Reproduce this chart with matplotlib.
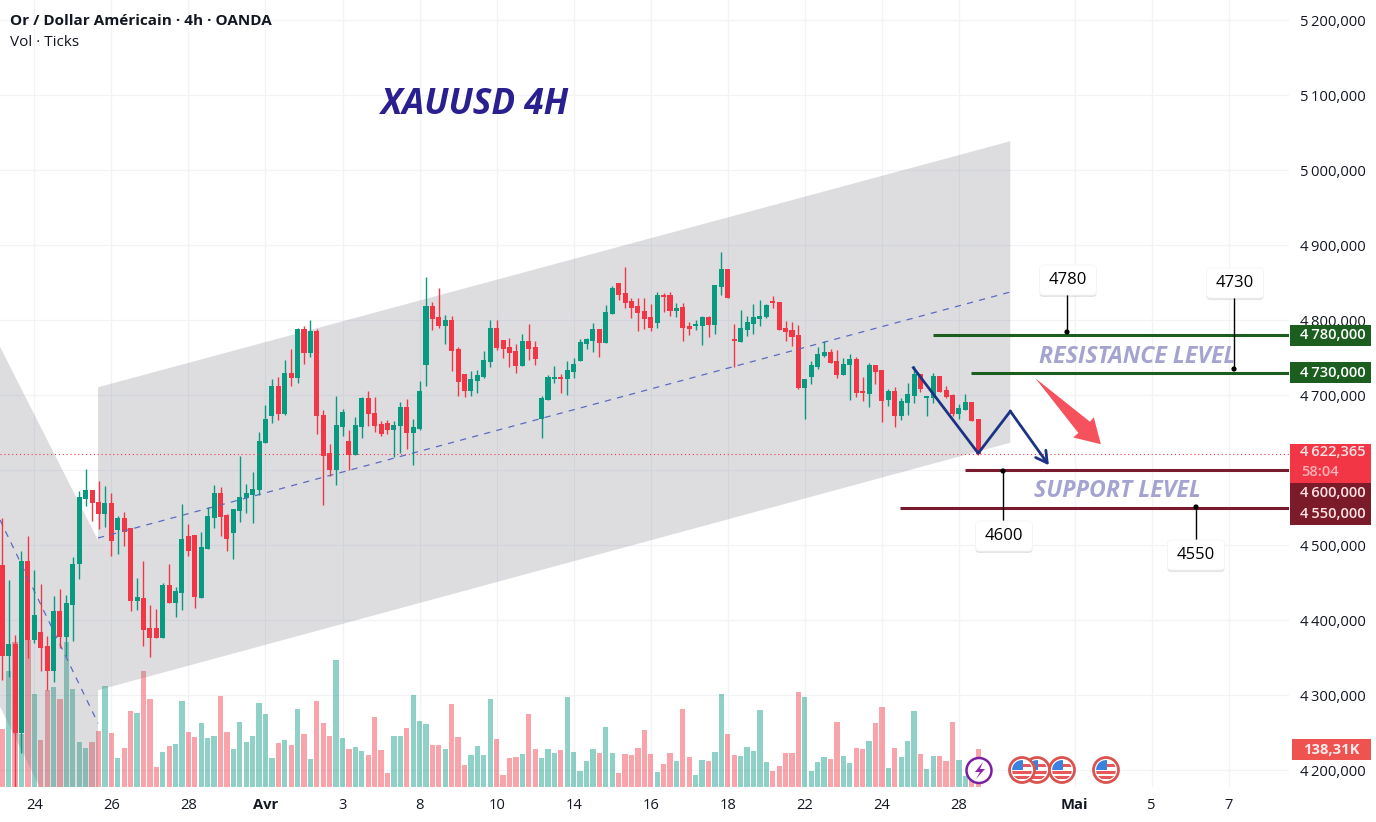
import matplotlib
matplotlib.use('Agg')
from matplotlib import pyplot
from matplotlib.patches import Rectangle, Circle, Polygon, FancyBboxPatch
from matplotlib.patheffects import withSimplePatchShadow
from matplotlib.transforms import blended_transform_factory

pyplot.rcParams['font.family'] = ['Open Sans', 'DejaVu Sans']

opens = [
    4473, 4353, 4367, 4250, 4478, 4374, 4384, 4365, 4333, 4411,
    4378, 4421, 4475, 4562, 4573, 4557, 4542, 4555, 4521, 4535,
    4522, 4426, 4429, 4389, 4389, 4377, 4446, 4423, 4437, 4511,
    4513, 4430, 4495, 4537, 4569, 4539, 4517, 4546, 4563, 4567,
    4574, 4637, 4673, 4711, 4675, 4729, 4723, 4787, 4757, 4785,
    4673, 4622, 4601, 4658, 4638, 4621, 4658, 4695, 4675, 4661,
    4662, 4654, 4659, 4683, 4650, 4655, 4741, 4818, 4803, 4793,
    4799, 4761, 4727, 4706, 4719, 4725, 4745, 4789, 4773, 4763,
    4758, 4739, 4771, 4763, 4669, 4694, 4722, 4723, 4722, 4731,
    4746, 4769, 4773, 4787, 4770, 4809, 4849, 4835, 4825, 4818,
    4811, 4803, 4797, 4833, 4833, 4813, 4817, 4791, 4793, 4793,
    4803, 4794, 4845, 4867, 4774, 4771, 4787, 4795, 4802, 4804,
    4825, 4823, 4789, 4786, 4779, 4710, 4725, 4738, 4752, 4757,
    4745, 4727, 4741, 4747, 4705, 4702, 4739, 4733, 4694, 4705,
    4673, 4690, 4699, 4727, 4697, 4697, 4725, 4706, 4699, 4675,
    4681, 4690, 4667,
]
highs = [
    4536, 4454, 4381, 4493, 4513, 4467, 4449, 4379, 4433, 4442,
    4434, 4485, 4573, 4602, 4574, 4586, 4579, 4570, 4539, 4545,
    4523, 4457, 4479, 4421, 4415, 4450, 4475, 4444, 4555, 4529,
    4514, 4518, 4551, 4580, 4578, 4542, 4547, 4619, 4582, 4598,
    4651, 4687, 4722, 4724, 4747, 4762, 4790, 4793, 4801, 4788,
    4681, 4635, 4699, 4682, 4654, 4671, 4698, 4706, 4698, 4666,
    4667, 4666, 4691, 4695, 4669, 4719, 4858, 4825, 4843, 4807,
    4806, 4765, 4729, 4733, 4734, 4759, 4801, 4801, 4773, 4777,
    4769, 4782, 4795, 4773, 4699, 4727, 4739, 4729, 4746, 4750,
    4775, 4777, 4796, 4789, 4821, 4846, 4850, 4871, 4830, 4830,
    4830, 4822, 4838, 4837, 4838, 4823, 4823, 4798, 4801, 4806,
    4806, 4847, 4891, 4867, 4795, 4814, 4806, 4822, 4827, 4822,
    4833, 4825, 4799, 4798, 4794, 4721, 4746, 4765, 4773, 4762,
    4761, 4750, 4755, 4751, 4725, 4743, 4741, 4734, 4709, 4711,
    4697, 4717, 4739, 4729, 4698, 4730, 4726, 4713, 4702, 4689,
    4702, 4691, 4667,
]
lows = [
    4321, 4325, 4178, 4223, 4350, 4370, 4332, 4307, 4318, 4363,
    4352, 4372, 4455, 4553, 4533, 4522, 4524, 4486, 4488, 4499,
    4413, 4414, 4366, 4351, 4376, 4377, 4423, 4404, 4414, 4486,
    4417, 4430, 4495, 4523, 4513, 4493, 4482, 4531, 4543, 4530,
    4567, 4637, 4663, 4667, 4674, 4713, 4716, 4742, 4751, 4649,
    4554, 4593, 4581, 4646, 4601, 4621, 4643, 4659, 4651, 4646,
    4649, 4618, 4623, 4628, 4607, 4654, 4713, 4787, 4790, 4769,
    4733, 4699, 4698, 4699, 4703, 4723, 4738, 4761, 4750, 4738,
    4730, 4739, 4747, 4741, 4643, 4694, 4716, 4703, 4701, 4723,
    4746, 4762, 4758, 4751, 4770, 4809, 4827, 4817, 4803, 4786,
    4789, 4786, 4790, 4811, 4806, 4804, 4772, 4781, 4787, 4767,
    4778, 4782, 4834, 4830, 4738, 4771, 4779, 4782, 4793, 4803,
    4817, 4787, 4773, 4766, 4709, 4669, 4715, 4735, 4751, 4743,
    4723, 4727, 4694, 4698, 4693, 4685, 4715, 4665, 4686, 4658,
    4667, 4674, 4690, 4705, 4673, 4690, 4705, 4697, 4673, 4669,
    4681, 4666, 4621,
]
closes = [
    4353, 4367, 4250, 4478, 4374, 4406, 4363, 4333, 4411, 4378,
    4422, 4474, 4563, 4573, 4556, 4542, 4555, 4506, 4535, 4518,
    4426, 4430, 4387, 4377, 4377, 4446, 4423, 4438, 4507, 4493,
    4431, 4497, 4538, 4569, 4538, 4509, 4547, 4564, 4569, 4574,
    4638, 4667, 4711, 4675, 4729, 4723, 4787, 4757, 4785, 4672,
    4619, 4601, 4659, 4677, 4621, 4659, 4696, 4675, 4659, 4649,
    4654, 4659, 4683, 4650, 4657, 4705, 4818, 4802, 4793, 4799,
    4759, 4718, 4706, 4721, 4726, 4746, 4789, 4763, 4762, 4757,
    4739, 4771, 4762, 4749, 4695, 4723, 4723, 4722, 4733, 4741,
    4770, 4774, 4787, 4770, 4810, 4842, 4834, 4823, 4817, 4810,
    4802, 4790, 4833, 4831, 4813, 4815, 4790, 4789, 4794, 4803,
    4794, 4846, 4867, 4830, 4772, 4789, 4797, 4803, 4805, 4819,
    4823, 4787, 4785, 4778, 4710, 4721, 4739, 4754, 4757, 4743,
    4727, 4741, 4747, 4703, 4703, 4739, 4731, 4693, 4705, 4673,
    4691, 4701, 4727, 4709, 4698, 4725, 4705, 4698, 4675, 4682,
    4690, 4666, 4622,
]
# volume in thousands of ticks
volumes = [
    210, 421, 528, 194, 534, 337, 170, 354, 363, 319,
    528, 355, 163, 141, 163, 203, 366, 197, 104, 141,
    275, 268, 421, 319, 72, 126, 148, 155, 312, 199,
    181, 232, 177, 184, 330, 199, 137, 235, 163, 184,
    304, 264, 104, 159, 170, 152, 283, 192, 101, 312,
    232, 184, 461, 177, 137, 144, 130, 115, 254, 135,
    50, 184, 184, 213, 334, 239, 228, 152, 152, 137,
    301, 181, 79, 115, 148, 115, 319, 173, 42, 104,
    108, 119, 264, 137, 104, 137, 122, 133, 326, 126,
    57, 93, 137, 122, 217, 122, 50, 119, 115, 141,
    206, 119, 53, 82, 122, 93, 283, 108, 42, 97,
    93, 126, 340, 192, 115, 112, 144, 130, 279, 90,
    57, 75, 122, 122, 344, 326, 57, 90, 108, 101,
    235, 112, 86, 141, 137, 166, 232, 290, 68, 141,
    108, 166, 275, 119, 64, 112, 112, 93, 235, 97,
    39, 24, 138,
]

price_ticks = [4200, 4300, 4400, 4500, 4600, 4700, 4800, 4900, 5000, 5100, 5200]
date_ticks = [5, 17, 29, 41, 53, 65, 77, 89, 101, 113, 125, 137, 149, 167, 179, 191]
date_labels = ['24', '26', '28', 'Avr', '3', '8', '10', '14', '16', '18', '22', '24', '28', 'Mai', '5', '7']
bold_dates = ['Avr', 'Mai']

channel_x = [14.92, 157, 157, 14.92]
channel_y = [4711, 5039, 4637, 4307]
channel_mid_x = [14.92, 157]
channel_mid_y = [4510, 4838]
old_channel_x = [-0.34, 14.92, 14.92, -0.34]
old_channel_y = [4765, 4507, 4021, 4285]
old_mid_x = [-0.34, 14.92]
old_mid_y = [4534, 4263]

last_price = 4622.365
zigzag_x = [141.9, 152, 157]
zigzag_y = [4737, 4623, 4679]
zigzag_end = (163, 4607)
red_arrow_x = [160.9, 169.4, 170.0, 171.1, 166.8, 167.6]
red_arrow_y = [4723, 4665, 4671, 4635, 4644, 4650]

resistance_levels = [(4780, 144.9), (4730, 150.8)]
support_levels = [(4600, 149.9), (4550, 139.8)]

GREEN = '#089981'
RED = '#f23645'
LEVEL_GREEN = '#1b5e20'
LEVEL_RED = '#7a1a2e'
TEXT = '#131722'
NAVY = '#1c3384'
W, H = 1376, 822
PLOT_R, PLOT_B = 1289, 787

fig = pyplot.figure(figsize=(W / 100, H / 100), dpi=100)
rect = [0, (H - PLOT_B) / H, PLOT_R / W, PLOT_B / H]

# grid and axis labels at the bottom, then volume, then the price pane
ax = fig.add_axes(rect)
ax.set_xlim(-0.343, 200.4)
ax.set_ylim(4178, 5227.3)
ax.yaxis.tick_right()
ax.set_yticks(price_ticks)
ax.set_yticklabels([f'{p // 1000}\u2009{p % 1000:03d},000' for p in price_ticks], fontsize=10.6, color=TEXT)
ax.set_xticks(date_ticks)
ax.set_xticklabels(date_labels, fontsize=10.6, color=TEXT)
for lab in ax.get_xticklabels():
    if lab.get_text() in bold_dates:
        lab.set_fontweight('bold')
ax.tick_params(axis='both', length=0)
ax.tick_params(axis='y', pad=8)
ax.tick_params(axis='x', pad=8)
ax.grid(color='#f2f3f6', linewidth=0.9)
for side in ax.spines.values():
    side.set_visible(False)

xs = list(range(len(closes)))
up = [c >= o for o, c in zip(opens, closes)]
colors = [GREEN if u else RED for u in up]

vol_ax = fig.add_axes(rect, sharex=ax)
vol_ax.patch.set_visible(False)
vol_ax.axis('off')
vol_ax.set_ylim(0, PLOT_B * 3.64)
vol_ax.bar(xs, volumes, width=0.82, color=colors, alpha=0.45, linewidth=0)

price_ax = fig.add_axes(rect, sharex=ax, sharey=ax)
price_ax.patch.set_visible(False)
price_ax.axis('off')
price_ax.add_patch(Polygon(list(zip(channel_x, channel_y)), fc='#787b86', alpha=0.25, lw=0))
price_ax.add_patch(Polygon(list(zip(old_channel_x, old_channel_y)), fc='#787b86', alpha=0.25, lw=0))
price_ax.plot(channel_mid_x, channel_mid_y, color='#5c6bc0', lw=0.9, ls=(0, (5, 5)))
price_ax.plot(old_mid_x, old_mid_y, color='#5c6bc0', lw=0.9, ls=(0, (5, 5)))
price_ax.axhline(last_price, color=RED, lw=0.8, ls=(0, (1, 2.5)))

price_ax.vlines(xs, lows, highs, colors=colors, lw=1)
price_ax.bar(xs, [abs(c - o) + 1 for o, c in zip(opens, closes)],
             bottom=[min(o, c) for o, c in zip(opens, closes)],
             width=0.78, color=colors, linewidth=0)

for level, start in resistance_levels:
    price_ax.hlines(level, start, 200.4, color=LEVEL_GREEN, lw=2.2)
for level, start in support_levels:
    price_ax.hlines(level, start, 200.4, color=LEVEL_RED, lw=2.2)

price_ax.plot(zigzag_x, zigzag_y, color=NAVY, lw=2)
price_ax.annotate('', xy=zigzag_end, xytext=(zigzag_x[-1], zigzag_y[-1]),
                  arrowprops=dict(arrowstyle='->,head_length=0.8,head_width=0.45', color=NAVY,
                                  lw=2, shrinkA=0, shrinkB=0))
price_ax.add_patch(Polygon(list(zip(red_arrow_x, red_arrow_y)), fc='#f5525d', lw=0))

# pixel overlay for badges, callouts and the economic event icons
top = fig.add_axes([0, 0, 1, 1], zorder=10)
top.set_xlim(0, W)
top.set_ylim(H, 0)
top.axis('off')
top.patch.set_visible(False)

top.text(10, 21, 'Or / Dollar Américain · 4h · OANDA', fontsize=11, fontweight='bold', color=TEXT, va='center')
top.text(10, 42, 'Vol · Ticks', fontsize=11, color=TEXT, va='center')
top.text(381, 105, 'XAUUSD 4H', fontsize=25.3, fontweight='bold', style='italic', color='#2a1f8f', va='center')
top.text(1039, 357, 'RESISTANCE LEVEL', fontsize=16.7, fontweight='bold', style='italic', color='#a5a3d0', va='center')
top.text(1034, 491, 'SUPPORT LEVEL', fontsize=16.7, fontweight='bold', style='italic', color='#a5a3d0', va='center')

badge_tf = blended_transform_factory(top.transData, price_ax.transData)


def price_badge(price, label, color):
    top.add_patch(Rectangle((1290, price - 14), 81, 28, fc=color, lw=0, transform=badge_tf))
    top.text(1333, price, label, color='white', fontsize=10.6, fontweight='semibold',
             ha='center', va='center', transform=badge_tf)


top.add_patch(Rectangle((1290, 4583), 81, 52, fc=RED, lw=0, transform=badge_tf))
top.text(1333, 4624, '4\u2009622,365', color='#ffe3e5', fontsize=10.6, fontweight='semibold',
         ha='center', va='center', transform=badge_tf)
top.text(1301, 4598, '58:04', color='#ffb3b8', fontsize=10.6, fontweight='semibold',
         ha='left', va='center', transform=badge_tf)
price_badge(4780, '4\u2009780,000', LEVEL_GREEN)
price_badge(4730, '4\u2009730,000', LEVEL_GREEN)
# these two sit stacked under the last price badge, not on their own levels
top.add_patch(Rectangle((1290, 4527), 81, 56, fc='#7b1a28', lw=0, transform=badge_tf))
top.text(1333, 4570, '4\u2009600,000', color='#ffe3e5', fontsize=10.6, fontweight='semibold',
         ha='center', va='center', transform=badge_tf)
top.text(1333, 4542, '4\u2009550,000', color='#ffe3e5', fontsize=10.6, fontweight='semibold',
         ha='center', va='center', transform=badge_tf)

top.add_patch(Rectangle((1292, 739), 79, 21, fc='#ef5350', lw=0))
top.text(1331, 749.5, '138,31K', color='#ffe9ea', fontsize=10.6, fontweight='bold', ha='center', va='center')


def callout(cx, cy, label, dot_x, dot_y):
    top.plot([dot_x, dot_x], [dot_y, cy], color='black', lw=1, zorder=2)
    top.add_patch(Circle((dot_x, dot_y), 2.6, fc='black', lw=0, zorder=3))
    box = FancyBboxPatch((cx - 26, cy - 12.5), 52, 25, boxstyle='round,pad=2.5,rounding_size=4',
                         fc='white', ec='#f4f4f4', lw=0.6, zorder=4)
    box.set_path_effects([withSimplePatchShadow(offset=(0, -1.5), shadow_rgbFace='black', alpha=0.1)])
    top.add_patch(box)
    top.text(cx, cy, label, fontsize=12, color='black', ha='center', va='center', zorder=5)


callout(1068, 280, '4780', 1067, 332)
callout(1235, 283, '4730', 1234, 369)
callout(1004, 536, '4600', 1003, 471)
callout(1196, 555, '4550', 1196, 507)


def flag_icon(cx, cy, z, r=12.5):
    top.add_patch(Circle((cx, cy), r, fc='white', ec='#d9534f', lw=2, zorder=z))
    inner = Circle((cx, cy), r - 2.6, fc='white', lw=0, zorder=z)
    top.add_patch(inner)
    for dx, dy, hgt in [(0, -6, 3), (-r, 0.5, 3.5), (-r, 6, 3)]:
        stripe = Rectangle((cx + dx, cy + dy), 2 * r, hgt, fc='#e8585a', lw=0, zorder=z)
        top.add_patch(stripe)
        stripe.set_clip_path(inner)
    canton = Rectangle((cx - r, cy - r), r + 1, r, fc='#3b82e0', lw=0, zorder=z)
    top.add_patch(canton)
    canton.set_clip_path(inner)


top.add_patch(Circle((979, 770.5), 12.5, fc='white', ec='#7b1fa2', lw=1.8, zorder=6))
top.add_patch(Polygon([(983, 762), (975, 772), (980, 772), (976, 779), (985, 769), (980, 769)],
                      fc='#8e24aa', lw=0, zorder=7))
for n, icon_x in enumerate((1037, 1022, 1062, 1106)):
    flag_icon(icon_x, 770, 8 + n)

fig.savefig('out.png', dpi=100)
pyplot.close(fig)
